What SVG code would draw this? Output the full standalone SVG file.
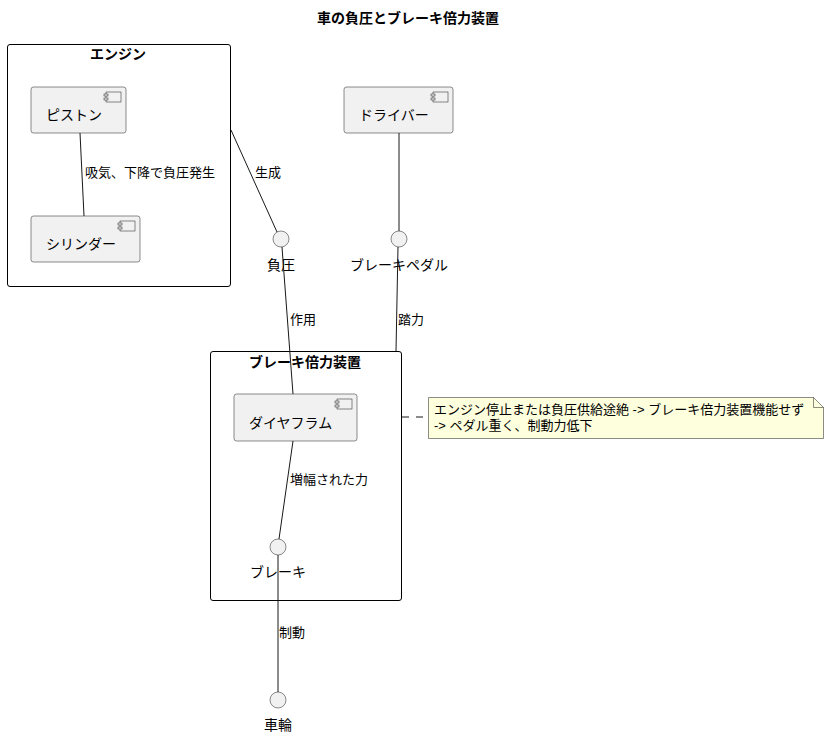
<svg xmlns="http://www.w3.org/2000/svg" width="829" height="737" viewBox="0 0 829 737">
<style>
text{font-family:"Liberation Sans","Noto Sans CJK JP",sans-serif;fill:#000}
.t{font-size:14px;font-weight:bold}
.n{font-size:14px}
.l{font-size:13px}
.pkg{fill:none;stroke:#000;stroke-width:1}
.comp{fill:#F1F1F1;stroke:#181818;stroke-width:0.5}
.ic{fill:#F1F1F1;stroke:#181818;stroke-width:0.5}
.iface{fill:#F1F1F1;stroke:#181818;stroke-width:0.5}
.c{fill:none;stroke:#181818;stroke-width:1}
</style>
<rect width="829" height="737" fill="#fff"/>
<text class="t" x="408" y="23" text-anchor="middle">車の負圧とブレーキ倍力装置</text>

<g id="engine">
<rect class="pkg" x="7.5" y="44.5" width="223" height="242" rx="2.5"/>
<text class="t" x="118" y="59" text-anchor="middle">エンジン</text>
</g>
<g id="piston">
<rect class="comp" x="31" y="87" width="95" height="46" rx="2.5"/>
<rect class="ic" x="106" y="92" width="15" height="10"/>
<rect class="ic" x="104" y="94" width="4" height="2"/>
<rect class="ic" x="104" y="98" width="4" height="2"/>
<text class="n" x="46" y="120">ピストン</text>
</g>
<g id="cylinder">
<rect class="comp" x="31" y="216" width="109" height="46" rx="2.5"/>
<rect class="ic" x="120" y="221" width="15" height="10"/>
<rect class="ic" x="118" y="223" width="4" height="2"/>
<rect class="ic" x="118" y="227" width="4" height="2"/>
<text class="n" x="46" y="249">シリンダー</text>
</g>
<g id="driver">
<rect class="comp" x="344" y="87" width="109" height="46" rx="2.5"/>
<rect class="ic" x="433" y="92" width="15" height="10"/>
<rect class="ic" x="431" y="94" width="4" height="2"/>
<rect class="ic" x="431" y="98" width="4" height="2"/>
<text class="n" x="359" y="120">ドライバー</text>
</g>
<g id="negpressure">
<circle class="iface" cx="281" cy="239" r="8"/>
<text class="n" x="281" y="270" text-anchor="middle">負圧</text>
</g>
<g id="pedal">
<circle class="iface" cx="399" cy="239" r="8"/>
<text class="n" x="399" y="270" text-anchor="middle">ブレーキペダル</text>
</g>
<g id="booster">
<rect class="pkg" x="210.5" y="351.5" width="191" height="249" rx="2.5"/>
<text class="t" x="305" y="367" text-anchor="middle">ブレーキ倍力装置</text>
</g>
<g id="diaphragm">
<rect class="comp" x="234" y="394" width="123" height="47" rx="2.5"/>
<rect class="ic" x="337" y="399" width="15" height="10"/>
<rect class="ic" x="335" y="401" width="4" height="2"/>
<rect class="ic" x="335" y="405" width="4" height="2"/>
<text class="n" x="249" y="428">ダイヤフラム</text>
</g>
<g id="brake">
<circle class="iface" cx="278" cy="547" r="8"/>
<text class="n" x="278" y="577" text-anchor="middle">ブレーキ</text>
</g>
<g id="wheel">
<circle class="iface" cx="278" cy="700" r="8"/>
<text class="n" x="278" y="730" text-anchor="middle">車輪</text>
</g>
<g id="note">
<path d="M428.5,397.5 H813.5 L823.5,407.5 V438.5 H428.5 Z" fill="#FEFFDD" stroke="#181818" stroke-width="0.5"/>
<path d="M813.5,397.5 V407.5 H823.5" fill="none" stroke="#181818" stroke-width="0.5"/>
<text class="l" x="434" y="414">エンジン停止または負圧供給途絶 -&gt; ブレーキ倍力装置機能せず</text>
<text class="l" x="434" y="430">-&gt; ペダル重く、制動力低下</text>
</g>

<g id="connectors">
<line class="c" x1="80" y1="133" x2="84" y2="216"/>
<text class="l" x="85" y="177">吸気、下降で負圧発生</text>
<line class="c" x1="231" y1="130" x2="277" y2="232"/>
<text class="l" x="255" y="177">生成</text>
<line class="c" x1="399" y1="133" x2="399" y2="231"/>
<line class="c" x1="282" y1="247" x2="293" y2="394"/>
<text class="l" x="290" y="324">作用</text>
<line class="c" x1="398" y1="247" x2="396" y2="351"/>
<text class="l" x="398" y="324">踏力</text>
<line class="c" x1="293" y1="441" x2="279" y2="539"/>
<text class="l" x="290" y="484">増幅された力</text>
<line class="c" x1="278" y1="555" x2="278" y2="692"/>
<text class="l" x="279" y="637">制動</text>
<line class="c" x1="402" y1="417" x2="428" y2="417" stroke-dasharray="7,7"/>
</g>
</svg>
